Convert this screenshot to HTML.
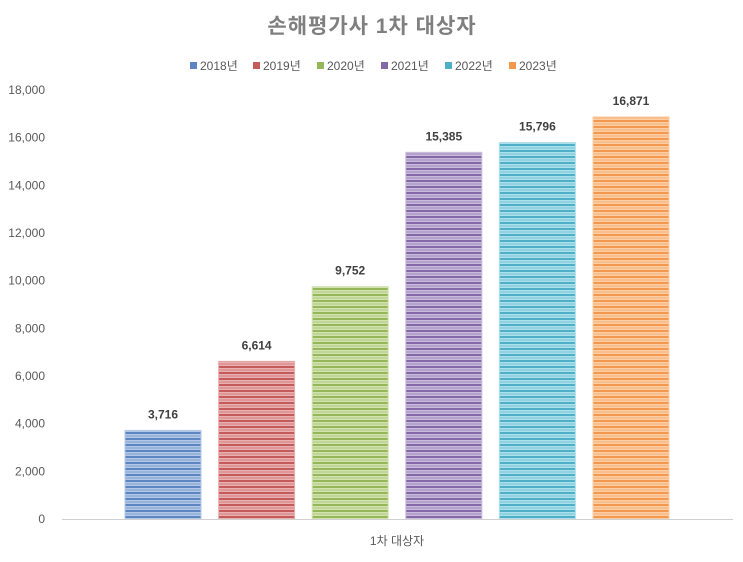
<!DOCTYPE html>
<html><head><meta charset="utf-8">
<style>
html,body{margin:0;padding:0;background:#fff;}
body{width:743px;height:557px;overflow:hidden;font-family:"Liberation Sans","Noto Sans CJK KR",sans-serif;}
</style></head>
<body>
<svg id="chart" width="743" height="557" xmlns="http://www.w3.org/2000/svg" font-family="Liberation Sans, Noto Sans CJK KR, sans-serif">
<text x="372" y="33" text-anchor="middle" font-size="21" font-weight="bold" fill="#7f7f7f" letter-spacing="1">손해평가사 1차 대상자</text>
<g id="legend"></g>
<g id="yaxis"></g>
<g id="bars"></g>
<line x1="62" y1="519.5" x2="733" y2="519.5" stroke="#d0d0d0" stroke-width="1"/>
<text x="397" y="545" text-anchor="middle" font-size="12" fill="#595959">1차 대상자</text>
</svg>
<script>
const seriesNames = ['2018년','2019년','2020년','2021년','2022년','2023년'];
const seriesValues = [3716, 6614, 9752, 15385, 15796, 16871];
const yTicks = [0,2000,4000,6000,8000,10000,12000,14000,16000,18000];
const darkColors = ['#5b86c2','#c45a5a','#96b65a','#8468a8','#4eafc6','#f3984c'];
const lightColors = ['#b3c8e6','#e8b0b0','#d3e3b0','#c9bbdc','#ace0ec','#fbcea6'];

const NS='http://www.w3.org/2000/svg';
const y0=519, yTop=90, yMax=18000;
function yScale(v){return y0-(v/yMax)*(y0-yTop);}
const barW=76, firstX=125, step=93.6;
function xScale(i){return firstX+i*step;}

const svg=document.getElementById('chart');
const defs=document.createElementNS(NS,'defs');
svg.insertBefore(defs,svg.firstChild);
seriesNames.forEach((n,i)=>{
  const p=document.createElementNS(NS,'pattern');
  p.setAttribute('id','pat'+i);p.setAttribute('patternUnits','userSpaceOnUse');
  p.setAttribute('width','10');p.setAttribute('height','6');
  const r1=document.createElementNS(NS,'rect');
  r1.setAttribute('width','10');r1.setAttribute('height','6');r1.setAttribute('fill',lightColors[i]);
  const r2=document.createElementNS(NS,'rect');
  r2.setAttribute('y','0');r2.setAttribute('width','10');r2.setAttribute('height','2');r2.setAttribute('fill',darkColors[i]);
  const r3=document.createElementNS(NS,'rect');
  r3.setAttribute('y','3.5');r3.setAttribute('width','10');r3.setAttribute('height','1');r3.setAttribute('fill',darkColors[i]);r3.setAttribute('opacity','0.6');
  p.appendChild(r1);p.appendChild(r2);p.appendChild(r3);defs.appendChild(p);
});

const ya=document.getElementById('yaxis');
yTicks.forEach(t=>{
  const tx=document.createElementNS(NS,'text');
  
  
  tx.setAttribute('x','45');tx.setAttribute('y',yScale(t)+4);
  tx.setAttribute('text-anchor','end');tx.setAttribute('font-size','12');tx.setAttribute('fill','#595959');
  tx.textContent=t.toLocaleString('en-US');
  ya.appendChild(tx);
});

const bg=document.getElementById('bars');
seriesValues.forEach((v,i)=>{
  const r=document.createElementNS(NS,'rect');
  
  
  r.setAttribute('x',xScale(i));r.setAttribute('y',yScale(v));
  r.setAttribute('width',barW);r.setAttribute('height',y0-yScale(v));
  r.setAttribute('fill','url(#pat'+i+')');
  r.setAttribute('stroke',lightColors[i]);r.setAttribute('stroke-width','1');
  bg.appendChild(r);
  const lb=document.createElementNS(NS,'text');
  
  
  lb.setAttribute('x',xScale(i)+barW/2);lb.setAttribute('y',yScale(v)-12);
  lb.setAttribute('text-anchor','middle');lb.setAttribute('font-size','12');lb.setAttribute('font-weight','bold');lb.setAttribute('fill','#404040');
  lb.textContent=v.toLocaleString('en-US');
  bg.appendChild(lb);
});

const lg=document.getElementById('legend');
const legendX=[190,253,317,381,445,509];
seriesNames.forEach((n,i)=>{
  const g=document.createElementNS(NS,'g');
  
  
  const s=document.createElementNS(NS,'rect');
  s.setAttribute('x',legendX[i]);s.setAttribute('y','62');s.setAttribute('width','7');s.setAttribute('height','7');
  s.setAttribute('fill',darkColors[i]);
  const t=document.createElementNS(NS,'text');
  t.setAttribute('x',legendX[i]+10);t.setAttribute('y','70');t.setAttribute('font-size','12');t.setAttribute('fill','#595959');
  t.textContent=n;
  g.appendChild(s);g.appendChild(t);lg.appendChild(g);
});
</script>
</body></html>
